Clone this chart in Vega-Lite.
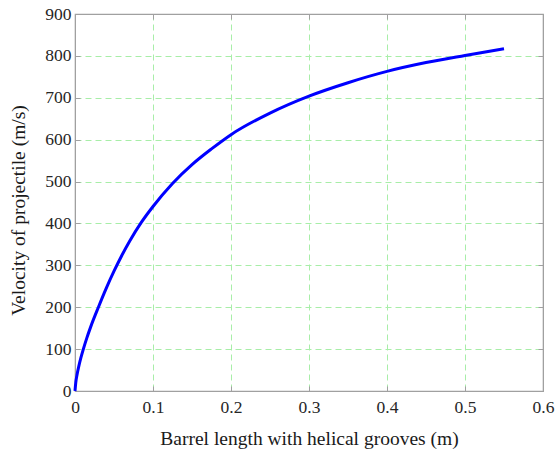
{
  "$schema": "https://vega.github.io/schema/vega-lite/v6.json",
  "autosize": "none",
  "width": 468,
  "height": 377,
  "padding": {"left": 75, "top": 14, "right": 15, "bottom": 59},
  "background": "white",
  "config": {
    "view": {"stroke": "#a0a0a0", "strokeWidth": 1.2},
    "font": "Liberation Serif",
    "axis": {
      "labelFont": "Liberation Serif",
      "titleFont": "Liberation Serif",
      "labelFontSize": 17.5,
      "titleFontSize": 19.5,
      "titleFontWeight": "normal",
      "labelColor": "#262626",
      "titleColor": "#1a1a1a",
      "domainColor": "#a0a0a0",
      "tickColor": "#a0a0a0",
      "tickSize": -5,
      "gridColor": "#a8eea8",
      "gridDash": [6, 4],
      "gridWidth": 1
    }
  },
  "data": {"values": [
    {"x": 0, "v": 0},
    {"x": 0.001, "v": 20.3},
    {"x": 0.0025, "v": 37.7},
    {"x": 0.005, "v": 60},
    {"x": 0.0075, "v": 78.8},
    {"x": 0.0107, "v": 100},
    {"x": 0.015, "v": 125.6},
    {"x": 0.02, "v": 152.5},
    {"x": 0.03, "v": 200},
    {"x": 0.04, "v": 245},
    {"x": 0.05, "v": 286},
    {"x": 0.06, "v": 323.5},
    {"x": 0.07, "v": 357.5},
    {"x": 0.085, "v": 402.5},
    {"x": 0.1, "v": 440.5},
    {"x": 0.125, "v": 495.5},
    {"x": 0.15, "v": 540.5},
    {"x": 0.175, "v": 578},
    {"x": 0.2, "v": 612},
    {"x": 0.25, "v": 663.5},
    {"x": 0.3, "v": 704},
    {"x": 0.35, "v": 736},
    {"x": 0.4, "v": 763},
    {"x": 0.45, "v": 784},
    {"x": 0.5, "v": 801},
    {"x": 0.55, "v": 817}
  ]},
  "layer": [
    {
      "mark": {"type": "line", "color": "#0000ff", "strokeWidth": 3, "interpolate": "monotone"},
      "encoding": {
        "x": {"field": "x", "type": "quantitative",
              "scale": {"domain": [0, 0.6], "nice": false},
              "axis": {"values": [0, 0.1, 0.2, 0.3, 0.4, 0.5, 0.6], "format": "~g", "title": "Barrel length with helical grooves (m)", "labelPadding": 12.5, "labelFlush": false, "titleY": 47, "titleBaseline": "middle"}},
        "y": {"field": "v", "type": "quantitative",
              "scale": {"domain": [0, 900], "nice": false},
              "axis": {"values": [0, 100, 200, 300, 400, 500, 600, 700, 800, 900], "title": "Velocity of projectile (m/s)", "labelPadding": 9, "labelFlush": false, "titleX": -57, "titleY": 196, "titleBaseline": "middle"}}
      }
    },
    {
      "mark": {"type": "line", "opacity": 0},
      "encoding": {
        "x": {"field": "x", "type": "quantitative",
              "axis": {"orient": "top", "values": [0, 0.1, 0.2, 0.3, 0.4, 0.5, 0.6], "labels": false, "grid": false, "title": null}},
        "y": {"field": "v", "type": "quantitative",
              "axis": {"orient": "right", "values": [0, 100, 200, 300, 400, 500, 600, 700, 800, 900], "labels": false, "grid": false, "title": null}}
      }
    }
  ],
  "resolve": {"axis": {"x": "independent", "y": "independent"}}
}
